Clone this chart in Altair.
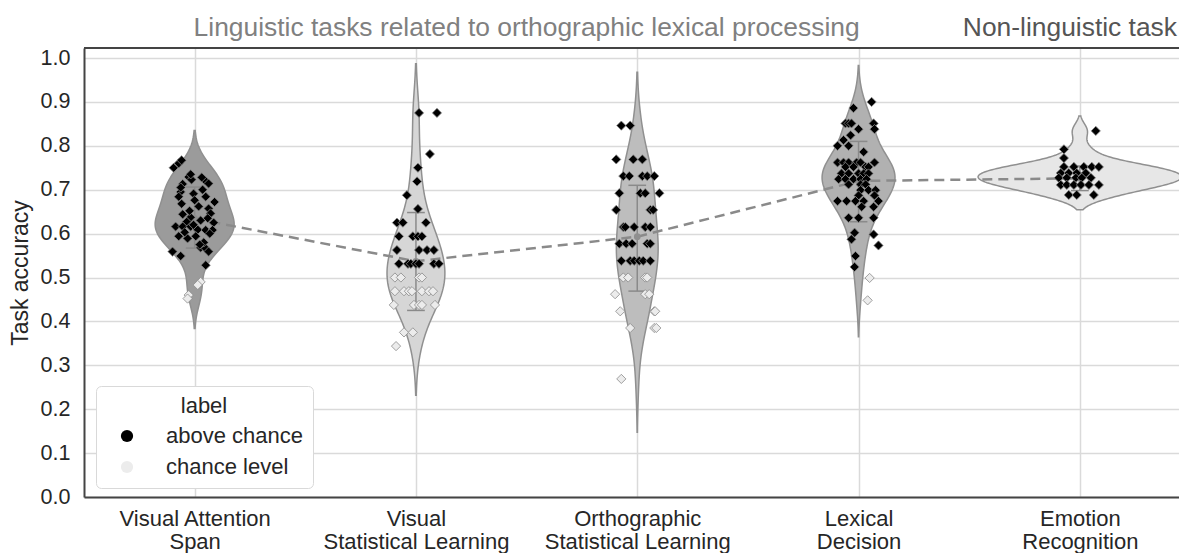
import json
import numpy as np
import pandas as pd
import altair as alt

# ---------------- data ----------------
categories = ["Visual Attention Span", "Visual Statistical Learning",
              "Orthographic Statistical Learning", "Lexical Decision", "Emotion Recognition"]
cat_lines = [["Visual Attention", "Span"], ["Visual", "Statistical Learning"],
             ["Orthographic", "Statistical Learning"], ["Lexical", "Decision"],
             ["Emotion", "Recognition"]]
violin_fill = ["#9b9b9b", "#d6d6d6", "#bdbdbd", "#b1b1b1", "#e7e7e7"]

group_titles = ["Linguistic tasks related to orthographic lexical processing", "Non-linguistic task"]
group_colors = ["#808080", "#555555"]

# per-participant accuracies and strip jitter (fraction of category step)
vas_values = [0.750, 0.760, 0.767, 0.729, 0.723, 0.713, 0.722, 0.714, 0.695, 0.684,
              0.691, 0.684, 0.676, 0.672, 0.657, 0.646, 0.644, 0.637, 0.627, 0.635,
              0.625, 0.616, 0.616, 0.616, 0.609, 0.608, 0.608, 0.594, 0.589, 0.594,
              0.568, 0.566, 0.559, 0.559, 0.549, 0.528, 0.705, 0.700, 0.668, 0.662,
              0.652, 0.630, 0.620, 0.603, 0.600, 0.580, 0.575, 0.728, 0.735, 0.490,
              0.483, 0.460, 0.452]
vas_jitter = [-0.095, -0.072, -0.059, -0.027, -0.014, -0.054, 0.045, 0.063, -0.063, -0.072,
              -0.005, 0.050, 0.000, 0.090, 0.063, 0.072, -0.054, -0.018, -0.036, 0.059,
              0.086, -0.086, -0.054, -0.018, 0.014, 0.050, 0.081, -0.072, -0.032, 0.005,
              0.027, 0.050, 0.063, -0.100, -0.063, 0.050, -0.063, 0.036, -0.059, 0.018,
              -0.023, 0.027, -0.005, -0.045, 0.068, 0.041, 0.023, 0.032, -0.018, 0.027,
              0.014, -0.027, -0.032]

vsl_values = [0.875, 0.875, 0.78125, 0.75, 0.71875, 0.6875, 0.65625, 0.625, 0.625, 0.625,
              0.59375, 0.59375, 0.59375, 0.59375, 0.5625, 0.5625, 0.5625, 0.5625, 0.53125, 0.53125,
              0.53125, 0.53125, 0.53125, 0.53125, 0.53125,
              0.5, 0.5, 0.5, 0.5, 0.46875, 0.46875, 0.46875, 0.46875, 0.46875, 0.46875,
              0.46875, 0.4375, 0.4375, 0.4375, 0.4375, 0.4375, 0.375, 0.375, 0.34375]
vsl_jitter = [0.014, 0.095, 0.063, 0.009, 0.005, -0.041, 0.009, -0.086, -0.059, 0.045,
              -0.077, -0.014, 0.009, 0.027, -0.086, 0.014, 0.050, 0.081, -0.077, -0.036,
              -0.023, 0.000, 0.014, 0.081, 0.104,
              -0.095, -0.068, 0.014, 0.027, -0.095, -0.054, -0.032, -0.018, 0.027, 0.059,
              0.077, -0.100, -0.009, 0.014, 0.027, 0.086, -0.054, -0.014, -0.090]

osl_values = [0.846, 0.846, 0.769, 0.769, 0.769, 0.731, 0.731, 0.731, 0.731, 0.731,
              0.692, 0.692, 0.692, 0.692, 0.654, 0.654, 0.654, 0.615, 0.615, 0.615,
              0.615, 0.615, 0.577, 0.577, 0.577, 0.577, 0.577, 0.538, 0.538, 0.538,
              0.538, 0.538, 0.538,
              0.500, 0.500, 0.500, 0.500, 0.462, 0.462, 0.462, 0.423, 0.423, 0.423,
              0.385, 0.385, 0.385, 0.269]
osl_jitter = [-0.072, -0.032, -0.095, -0.018, 0.023, -0.063, -0.036, 0.023, 0.045, 0.077,
              -0.081, 0.014, 0.036, 0.100, -0.095, 0.059, 0.072, -0.063, -0.054, -0.014,
              0.036, 0.059, -0.081, -0.050, -0.023, 0.045, 0.059, -0.072, -0.032, -0.014,
              0.009, 0.027, 0.059,
              -0.063, -0.041, 0.036, 0.045, -0.100, 0.036, 0.054, -0.077, 0.077, 0.081,
              -0.032, 0.077, 0.086, -0.072]

lex_values = [0.900, 0.886, 0.851, 0.851, 0.851, 0.851, 0.838, 0.838, 0.824, 0.813,
              0.800, 0.800, 0.786, 0.762, 0.762, 0.762, 0.762, 0.762, 0.762, 0.752,
              0.752, 0.752, 0.752, 0.737, 0.737, 0.737, 0.737, 0.737, 0.724, 0.724,
              0.724, 0.724, 0.724, 0.712, 0.712, 0.712, 0.699, 0.699, 0.699, 0.687,
              0.687, 0.674, 0.674, 0.674, 0.674, 0.674, 0.661, 0.661, 0.636, 0.636,
              0.636, 0.602, 0.587, 0.598, 0.573, 0.549, 0.524, 0.499, 0.448]
lex_jitter = [0.059, -0.023, -0.059, -0.045, -0.032, 0.068, 0.000, 0.072, -0.036, -0.068,
              -0.095, -0.045, 0.023, -0.095, -0.068, -0.045, -0.009, 0.009, 0.072, -0.059,
              -0.023, 0.032, 0.045, -0.077, -0.045, 0.000, 0.023, 0.045, -0.090, -0.059,
              -0.023, 0.009, 0.036, -0.045, 0.009, 0.032, 0.009, 0.045, 0.077, 0.000,
              0.072, -0.095, -0.054, -0.014, 0.023, 0.090, 0.014, 0.068, -0.045, 0.000,
              0.068, -0.018, -0.032, 0.068, 0.090, -0.014, -0.018, 0.050, 0.041]

emo_values = [0.792, 0.772, 0.752, 0.752, 0.752, 0.752, 0.752, 0.738, 0.738, 0.738,
              0.738, 0.727, 0.727, 0.727, 0.727, 0.727, 0.711, 0.711, 0.711, 0.711,
              0.711, 0.711, 0.688, 0.688, 0.688, 0.834]
emo_jitter = [-0.072, -0.072, -0.072, -0.027, 0.018, 0.054, 0.086, -0.086, -0.050, -0.014,
              0.027, -0.095, -0.059, -0.018, 0.009, 0.050, -0.086, -0.059, -0.027, 0.005,
              0.041, 0.086, -0.050, -0.014, 0.063, 0.072]

# group means and error-bar ends
means = [0.634, 0.537, 0.593, 0.720, 0.726]
err_low = [0.567, 0.425, 0.469, 0.627, 0.698]
err_high = [0.706, 0.648, 0.710, 0.810, 0.754]

all_values = [vas_values, vsl_values, osl_values, lex_values, emo_values]
all_jitter = [vas_jitter, vsl_jitter, osl_jitter, lex_jitter, emo_jitter]

# ---------------- derived tables ----------------
pts = []
for i, (vals, jit) in enumerate(zip(all_values, all_jitter)):
    for v, j in zip(vals, jit):
        pts.append({"cat": categories[i], "px": i + j, "value": v,
                    "label": "chance level" if v <= 0.5 else "above chance"})
points_df = pd.DataFrame(pts)

# violin outlines: Gaussian KDE (Scott bandwidth, cut = 2 bandwidths), area-scaled
curves = []
for vals in all_values:
    v = np.asarray(vals, float)
    n = len(v)
    bw = v.std(ddof=1) * n ** (-1 / 5)
    grid = np.linspace(v.min() - 2 * bw, v.max() + 2 * bw, 160)
    d = np.exp(-0.5 * ((grid[:, None] - v[None, :]) / bw) ** 2).sum(1) / (n * bw * np.sqrt(2 * np.pi))
    curves.append((grid, d))
gmax = max(d.max() for _, d in curves)
HALF = 0.46
violin_dfs = []
for i, (grid, d) in enumerate(curves):
    hw = d / gmax * HALF
    violin_dfs.append(pd.DataFrame({"y": grid, "lo": i - hw, "hi": i + hw}))

stats_df = pd.DataFrame({"pos": list(range(len(categories))), "mean": means,
                         "lo": err_low, "hi": err_high})

# ---------------- chart ----------------
W, H = 1095, 449
XS = alt.Scale(domain=[-0.5, 4.448], nice=False, zero=False)
YS = alt.Scale(domain=[0, 1.0228], nice=False, zero=False)
label_expr = json.dumps(cat_lines) + "[round(datum.value)]"
TXT = "#262626"
GRID = "#dadada"

x_axis = alt.Axis(values=[0, 1, 2, 3, 4], labelExpr=label_expr, title=None, grid=True,
                  ticks=False, labelFlush=False, labelOverlap=False, labelPadding=11,
                  labelFontSize=22, labelLineHeight=23, labelColor=TXT, labelLimit=400,
                  domainColor="#444444", domainWidth=2, gridColor=GRID, gridWidth=1.5)
y_axis = alt.Axis(values=[round(k * 0.1, 1) for k in range(11)], format=".1f",
                  title="Task accuracy", titleFontSize=23, titleFontWeight="normal",
                  titleColor=TXT, titlePadding=8, labelFontSize=21.5, labelPadding=14,
                  labelColor=TXT, ticks=False, domainColor="#444444", domainWidth=2,
                  gridColor=GRID, gridWidth=1.5)


def X(f):
    return alt.X(f, type="quantitative", scale=XS, axis=x_axis)


def Y(f):
    return alt.Y(f, type="quantitative", scale=YS, axis=y_axis)


layers = []
for i, vdf in enumerate(violin_dfs):
    layers.append(alt.Chart(vdf).mark_area(orient="horizontal", fill=violin_fill[i],
                                           stroke="#909090", strokeWidth=1.5,
                                           opacity=1, fillOpacity=1).encode(
        x=alt.X("lo", type="quantitative", scale=XS, axis=x_axis, stack=None),
        x2="hi:Q",
        y=Y("y"),
    ))

err_base = alt.Chart(stats_df).transform_calculate(
    c1="datum.pos - 0.04", c2="datum.pos + 0.04")
layers.append(err_base.mark_rule(color="#8a8a8a", strokeWidth=1.5).encode(
    x=X("pos"), y=Y("lo"), y2="hi:Q"))
layers.append(err_base.mark_rule(color="#8a8a8a", strokeWidth=1.5).encode(
    x=X("c1"), x2="c2:Q", y=Y("lo")))
layers.append(err_base.mark_rule(color="#8a8a8a", strokeWidth=1.5).encode(
    x=X("c1"), x2="c2:Q", y=Y("hi")))

layers.append(alt.Chart(stats_df).mark_line(color="#8a8a8a", strokeWidth=2.5,
                                            strokeDash=[10, 6]).encode(
    x=X("pos"), y=Y("mean")))
layers.append(alt.Chart(stats_df).mark_circle(color="#8f8f8f", size=45, opacity=1).encode(
    x=X("pos"), y=Y("mean")))

legend = alt.Legend(title="label", orient="none", legendX=12, legendY=338,
                    symbolType="circle", symbolSize=150, symbolStrokeWidth=0,
                    symbolOpacity=1, labelFontSize=22, titleFontSize=22,
                    titleFontWeight="normal", titleColor=TXT, labelColor=TXT,
                    fillColor="white", strokeColor="#d9d9d9", cornerRadius=5,
                    padding=10, symbolOffset=10, labelOffset=28, rowPadding=9,
                    titleAnchor="middle", titlePadding=7)
layers.append(alt.Chart(points_df).mark_point(shape="diamond", filled=True, size=85,
                                              stroke="#8a8a8a", strokeWidth=0.8,
                                              opacity=1).encode(
    x=X("px"), y=Y("value"),
    fill=alt.Fill("label:N", scale=alt.Scale(domain=["above chance", "chance level"],
                                             range=["#000000", "#ececec"]), legend=legend),
))

one = pd.DataFrame({"a": [0]})
layers.append(alt.Chart(one).mark_rule(color="#444444", strokeWidth=2).encode(
    x=alt.value(0), x2=alt.value(W), y=alt.value(0)))

layers.append(alt.Chart(one).mark_text(text=group_titles[0], fontSize=26.4, align="center",
                                       baseline="middle", color=group_colors[0]).encode(
    x=alt.X("a:Q", scale=XS, axis=x_axis), y=alt.value(-20)).transform_calculate(a="1.5"))
layers.append(alt.Chart(one).mark_text(text=group_titles[1], fontSize=26.4, align="right",
                                       baseline="middle", color=group_colors[1]).encode(
    x=alt.value(W - 2), y=alt.value(-20)))

chart = alt.layer(*layers).properties(
    width=W, height=H,
    autosize=alt.AutoSizeParams(type="none"),
    padding={"left": 84, "top": 48, "right": 0, "bottom": 56},
).configure(font="Liberation Sans").configure_view(stroke=None)

chart.save("out.html", embed_options={"renderer": "svg", "actions": False})
